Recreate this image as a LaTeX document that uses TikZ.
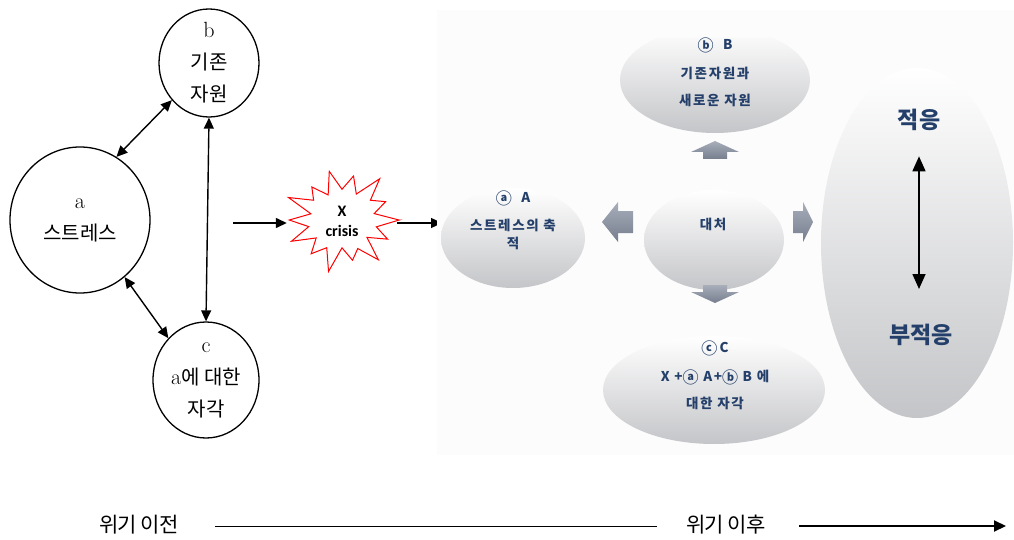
\documentclass[tikz,border=0pt]{standalone}
\usepackage{fontspec}
\newfontfamily\kr{Noto Sans CJK KR}
\newfontfamily\krs[LetterSpace=12]{Noto Sans CJK KR}
\newfontfamily\krt[LetterSpace=-4]{Noto Sans CJK KR}
\newfontfamily\crisisfont{Carlito}
\usetikzlibrary{arrows.meta,shapes.geometric}
\definecolor{txtblue}{HTML}{24406A}
\definecolor{panelgray}{HTML}{FCFCFC}
\definecolor{bubblebot}{HTML}{C4C5C8}
\definecolor{bubblemid}{HTML}{ECECED}
\definecolor{blocktop}{HTML}{A8AEBA}
\definecolor{blockbot}{HTML}{767E8E}
\tikzset{
  circ/.style={draw, ellipse, line width=1.3pt, inner sep=0pt},
  lbl/.style={align=center, font=\kr\fontsize{20}{32}\selectfont},
  dbl/.style={{Triangle[length=11pt,width=10pt]}-{Triangle[length=11pt,width=10pt]}, line width=1.4pt},
  arr/.style={-{Triangle[length=11pt,width=10pt]}, line width=1.4pt},
  bubble/.style={top color=white, middle color=bubblemid, bottom color=bubblebot},
  btxt/.style={text=txtblue, font=\krs\bfseries\fontsize{13.5}{15}\selectfont},
  block/.style={top color=blocktop, bottom color=blockbot},
}
\newcommand{\ltr}[1]{{\rmfamily\fontsize{22}{22}\selectfont #1}}
\newcommand{\circd}[1]{\raisebox{-1.2pt}{\fontsize{16}{15}\selectfont #1}}
\begin{document}
\begin{tikzpicture}[x=1pt,y=-1pt]
\useasboundingbox (0,0) rectangle (1014,540);
% ---------- left graph ----------
\node[circ, minimum width=100pt, minimum height=108pt,
  label={[lbl]center:{\ltr{b}\\기존\\자원}}] (b) at (209,63) {};
\node[circ, minimum width=140pt, minimum height=146pt,
  label={[lbl]center:{\ltr{a}\\스트레스}}] (a) at (80,220) {};
\node[circ, minimum width=106pt, minimum height=116pt,
  label={[lbl]center:{\ltr{c}\\\ltr{a}에 대한\\자각}}] (c) at (206,380) {};
\draw[dbl] (a.60) -- (b.225);
\draw[dbl] (b.south) -- (c.north);
\draw[dbl] (a.-52) -- (c.132);
% ---------- crisis star ----------
\draw[red, line width=1pt]
  (399,220) \foreach \r [count=\i from 0] in
  {1.04,0.64,0.92,0.58,1.06,0.66,0.86,0.58,1.1,0.64,0.9,0.6,1.02,0.62,
   0.96,0.58,1.08,0.66,0.88,0.58,1.04,0.64,0.94,0.6,1.1,0.66,0.88,0.6}
  { -- ({342+55*\r*cos(\i*12.857)},{220+48*\r*sin(\i*12.857)}) } -- cycle;
\node[ellipse, minimum width=110pt, minimum height=96pt, inner sep=0pt, align=center,
  font=\crisisfont\bfseries\fontsize{16}{20}\selectfont] (x) at (342,221) {X\\crisis};
\coordinate (in1) at (233,223);
\coordinate (Aw) at (442,223);
\draw[arr] (in1) -- (in1 -| x.west);
\draw[arr] (x.east |- Aw) -- (Aw);
% ---------- right panel ----------
\fill[panelgray] (437,10) rectangle (1014,455);
\begin{scope}
  \clip (600,38) rectangle (830,200);
  \shade[bubble] (715,80) ellipse [x radius=95pt, y radius=53pt];
\end{scope}
\begin{scope}
  \clip (430,188) rectangle (600,300);
  \shade[bubble] (513,238) ellipse [x radius=72pt, y radius=50pt];
\end{scope}
\begin{scope}
  \clip (630,190) rectangle (800,300);
  \shade[bubble] (714,240) ellipse [x radius=70pt, y radius=50pt];
\end{scope}
\shade[bubble] (714,390) ellipse [x radius=111pt, y radius=54pt];
\shade[bubble] (917,243) ellipse [x radius=96pt, y radius=175pt];
% block arrows
\shade[block] (715,141) -- (739,152) -- (727,152) -- (727,159) -- (703,159) -- (703,152) -- (691,152) -- cycle;
\shade[block] (703,285) -- (727,285) -- (727,292) -- (739,292) -- (715,303) -- (691,292) -- (703,292) -- cycle;
\shade[block] (602,222) -- (618,202) -- (618,211) -- (633,211) -- (633,233) -- (618,233) -- (618,242) -- cycle;
\shade[block] (793,211) -- (803,211) -- (803,202) -- (813,222) -- (803,242) -- (803,233) -- (793,233) -- cycle;
% texts
\node[btxt] (tB1) at (715,45) {\circd{ⓑ}\ \ B};
\node[btxt] (tB2) at (715,73) {기존자원과};
\node[btxt] (tB3) at (715,100) {새로운 자원};
\node[btxt] (tA1) at (513,198) {\circd{ⓐ}\ \ A};
\node[btxt] (tA2) at (513,225) {스트레스의 축};
\node[btxt] (tA3) at (513,243) {적};
\node[btxt] (tD) at (713,224) {대처};
\node[btxt] (tC1) at (715,348) {\circd{ⓒ}\,C};
\node[btxt] (tC2) at (715,377) {X +\circd{ⓐ} A+\circd{ⓑ} B 에};
\node[btxt] (tC3) at (715,403) {대한 자각};
\node[btxt, font=\kr\bfseries\fontsize{23}{26}\selectfont] (adapt) at (919,120) {적응};
\node[btxt, font=\kr\bfseries\fontsize{23}{26}\selectfont] (maladapt) at (921,335) {부적응};
\draw[{Triangle[length=15pt,width=13pt]}-{Triangle[length=15pt,width=13pt]}, line width=1.6pt]
  (adapt.south) ++(0,22) coordinate (u1) (u1) -- (919,289) coordinate (u2);
% ---------- bottom time line ----------
\node[font=\krt\fontsize{21}{24}\selectfont] (before) at (139,525) {위기 이전};
\node[font=\krt\fontsize{21}{24}\selectfont] (after) at (726,525) {위기 이후};
\coordinate (lineEnd) at (657,526);
\coordinate (arrEnd) at (1006,526);
\draw[line width=0.8pt] (215,526) -- (lineEnd);
\draw[-{Triangle[length=12pt,width=11pt]}, line width=2pt] (799,526) -- (arrEnd);
\end{tikzpicture}
\end{document}
